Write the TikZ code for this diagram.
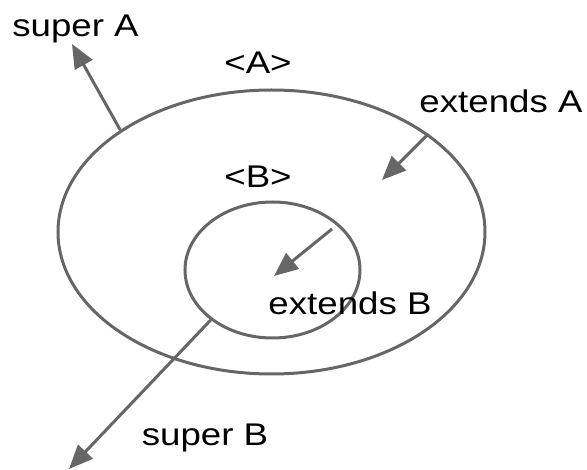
\documentclass[tikz,border=0pt]{standalone}
\usepackage{fontspec}
\setmainfont[FakeStretch=1.17]{Liberation Sans}
\usetikzlibrary{arrows.meta, shapes.geometric}
\definecolor{cgray}{RGB}{102,102,102}

\begin{document}
\begin{tikzpicture}[
    x=0.75pt, y=-0.75pt,
    >={Triangle[length=18pt, width=15pt]},
    every node/.style={font=\fontsize{23.5}{28}\selectfont, inner sep=0pt},
    scopering/.style={ellipse, draw=cgray, line width=2.25pt},
    link/.style={->, draw=cgray, line width=2.25pt},
]
    \useasboundingbox (0,0) rectangle (587,470);

    % Scopes
    \node[scopering, minimum width=320.25pt, minimum height=213pt] (scopeA) at (271.5,232) {};
    \node[scopering, minimum width=131.25pt, minimum height=102pt] (scopeB) at (272.5,270) {};

    % Labels
    \node[anchor=base] (superA) at (75.5,37) {super A};
    \node[anchor=base] (nameA) at (258,74) {<A>};
    \node[anchor=base] (nameB) at (258,188) {<B>};
    \node[anchor=base] (extendsA) at (501,113) {extends A};
    \node[anchor=base] (extendsB) at (350,315) {extends B};
    \node[anchor=base] (superB) at (205,446) {super B};

    % Free ends
    \coordinate (superAend) at (72,44);
    \coordinate (extendsAend) at (382,180);
    \coordinate (extendsBstart) at (332,229);
    \coordinate (extendsBend) at (274,276);
    \coordinate (superBend) at (69,469);

    % Arrows
    \draw[link] (scopeA.146) -- (superAend);
    \draw[link] (scopeA.32) -- (extendsAend);
    \draw[link] (extendsBstart) -- (extendsBend);
    \draw[link] (scopeB.219) -- (superBend);
\end{tikzpicture}
\end{document}
